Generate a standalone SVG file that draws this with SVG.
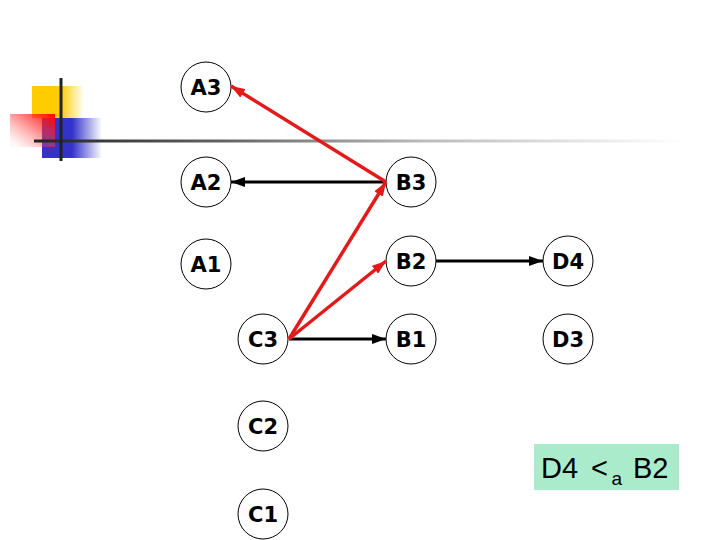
<svg xmlns="http://www.w3.org/2000/svg" width="720" height="540" viewBox="0 0 720 540">
<defs>
<linearGradient id="gY" x1="0" y1="0" x2="1" y2="0"><stop offset="0" stop-color="#FFCC00"/><stop offset="0.55" stop-color="#FFCC00"/><stop offset="1" stop-color="#FFCC00" stop-opacity="0"/></linearGradient>
<linearGradient id="gB" x1="0" y1="0" x2="1" y2="0"><stop offset="0" stop-color="#3333CC"/><stop offset="0.5" stop-color="#3333CC"/><stop offset="1" stop-color="#3333CC" stop-opacity="0"/></linearGradient>
<linearGradient id="gR" x1="1" y1="0" x2="0" y2="1"><stop offset="0" stop-color="#FF0000"/><stop offset="0.45" stop-color="#FF3333" stop-opacity="0.55"/><stop offset="0.9" stop-color="#FF6666" stop-opacity="0.05"/></linearGradient>
<linearGradient id="gL" x1="0" y1="0" x2="1" y2="0"><stop offset="0" stop-color="#222222"/><stop offset="0.3" stop-color="#666666"/><stop offset="0.6" stop-color="#bbbbbb"/><stop offset="1" stop-color="#ffffff"/></linearGradient>
<marker id="ak" viewBox="0 0 14 10" refX="14" refY="5" markerWidth="14" markerHeight="10" markerUnits="userSpaceOnUse" orient="auto"><path d="M0,0 L14,5 L0,10 z" fill="#000"/></marker>
<marker id="ar" viewBox="0 0 14 10" refX="14" refY="5" markerWidth="14" markerHeight="10" markerUnits="userSpaceOnUse" orient="auto"><path d="M0,0 L14,5 L0,10 z" fill="#E31A1A"/></marker>
</defs>
<style>
.n circle{fill:#fff;stroke:#000;stroke-width:1}
.n text{font-family:"DejaVu Sans",Verdana,sans-serif;font-weight:bold;font-size:21px;text-anchor:middle;fill:#000}
.k{stroke:#000;stroke-width:3;fill:none;marker-end:url(#ak)}
.r{stroke:#E31A1A;stroke-width:3.5;fill:none;marker-end:url(#ar)}
.lb{font-family:"Liberation Sans",Arial,sans-serif;font-size:29px;fill:#000}
</style>
<rect width="720" height="540" fill="#fff"/>
<g id="decoration">
<rect x="32" y="86" width="52" height="32" fill="url(#gY)"/>
<rect x="42" y="118" width="60" height="40" fill="url(#gB)"/>
<rect x="10" y="114" width="45" height="33" fill="url(#gR)"/>
<rect x="34" y="139.5" width="650" height="3" fill="url(#gL)"/>
<rect x="59.5" y="78" width="3" height="83" fill="#222"/>
</g>
<g id="A3" class="n"><circle cx="206" cy="87" r="25"/><text x="206" y="95">A3</text></g>
<g id="A2" class="n"><circle cx="206" cy="182" r="25"/><text x="206" y="190">A2</text></g>
<g id="A1" class="n"><circle cx="206" cy="264" r="25"/><text x="206" y="272">A1</text></g>
<g id="B3" class="n"><circle cx="411" cy="182" r="25"/><text x="411" y="190">B3</text></g>
<g id="B2" class="n"><circle cx="411" cy="261" r="25"/><text x="411" y="269">B2</text></g>
<g id="B1" class="n"><circle cx="411" cy="339" r="25"/><text x="411" y="347">B1</text></g>
<g id="C3" class="n"><circle cx="263" cy="339" r="25"/><text x="263" y="347">C3</text></g>
<g id="C2" class="n"><circle cx="263" cy="426" r="25"/><text x="263" y="434">C2</text></g>
<g id="C1" class="n"><circle cx="263" cy="514" r="25"/><text x="263" y="522">C1</text></g>
<g id="D4" class="n"><circle cx="568" cy="261" r="25"/><text x="568" y="269">D4</text></g>
<g id="D3" class="n"><circle cx="568" cy="339" r="25"/><text x="568" y="347">D3</text></g>
<g id="connectors">
<line class="k" x1="386" y1="182" x2="231" y2="182"/>
<line class="k" x1="289" y1="339" x2="386" y2="339"/>
<line class="k" x1="436" y1="261" x2="543" y2="261"/>
<line class="r" x1="386" y1="182" x2="231" y2="86"/>
<line class="r" x1="289" y1="339" x2="386" y2="182"/>
<line class="r" x1="289" y1="339" x2="386" y2="261"/>
</g>
<g id="label">
<rect x="534" y="444" width="145" height="46" fill="#AAEBCC"/>
<text class="lb" x="541" y="478">D4<tspan x="591">&lt;</tspan><tspan x="611.5" y="485" font-size="19">a</tspan><tspan x="633" y="478">B2</tspan></text>
</g>
</svg>
